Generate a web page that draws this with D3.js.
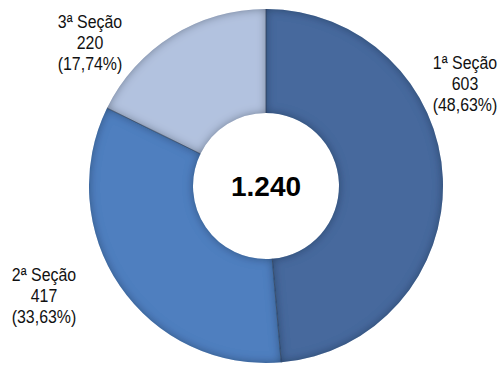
<!DOCTYPE html>
<html>
<head>
<meta charset="utf-8">
<script src="https://cdn.jsdelivr.net/npm/d3@7"></script>
<style>
  html, body { margin: 0; padding: 0; background: #fff; }
  svg { display: block; }
  svg text { font-family: "Liberation Sans", Arial, sans-serif; }
</style>
</head>
<body>
<div id="chart"></div>
<script>
// Distribution of cases by section
const sections = ["1ª Seção", "2ª Seção", "3ª Seção"];
const counts = [603, 417, 220];
const percentLabels = ["48,63%", "33,63%", "17,74%"];
const totalLabel = "1.240";
const colors = ["#46699d", "#4f7fbf", "#b2c2df"];

const width = 501, height = 365;
const cx = 266, cy = 186;
const outerR = 177, innerR = 73;

const svg = d3.select("#chart").append("svg")
  .attr("width", width).attr("height", height);

// Inner shadow to give each ring segment a bevelled look
const defs = svg.append("defs");
const f = defs.append("filter").attr("id", "bevel")
  .attr("x", "-10%").attr("y", "-10%").attr("width", "120%").attr("height", "120%");
f.append("feComponentTransfer").attr("in", "SourceAlpha").attr("result", "inv")
  .append("feFuncA").attr("type", "table").attr("tableValues", "1 0");
f.append("feGaussianBlur").attr("in", "inv").attr("stdDeviation", 5).attr("result", "blur");
f.append("feFlood").attr("flood-color", "#0b1a33").attr("flood-opacity", 0.7).attr("result", "col");
f.append("feComposite").attr("in", "col").attr("in2", "blur").attr("operator", "in").attr("result", "shadow");
f.append("feComposite").attr("in", "shadow").attr("in2", "SourceAlpha").attr("operator", "in").attr("result", "inner");
const merge = f.append("feMerge");
merge.append("feMergeNode").attr("in", "SourceGraphic");
merge.append("feMergeNode").attr("in", "inner");

const pie = d3.pie().sort(null).value(d => d)(counts);
const arc = d3.arc().innerRadius(innerR).outerRadius(outerR);

const g = svg.append("g").attr("transform", `translate(${cx},${cy})`);

g.selectAll("path.slice").data(pie).join("path")
  .attr("class", "slice")
  .attr("d", arc)
  .attr("fill", (d, i) => colors[i])
  .attr("filter", "url(#bevel)");

// thin separators between segments
g.selectAll("line.sep").data(pie).join("line")
  .attr("class", "sep")
  .attr("x1", d => innerR * Math.sin(d.startAngle))
  .attr("y1", d => -innerR * Math.cos(d.startAngle))
  .attr("x2", d => outerR * Math.sin(d.startAngle))
  .attr("y2", d => -outerR * Math.cos(d.startAngle))
  .attr("stroke", "#2a3a52").attr("stroke-opacity", 0.7).attr("stroke-width", 1);

// total in the centre
svg.append("text")
  .attr("x", cx).attr("y", cy)
  .attr("text-anchor", "middle").attr("dominant-baseline", "central")
  .attr("font-size", 28).attr("font-weight", "bold").attr("fill", "#000")
  .text(totalLabel);

// outside labels: section, count, percentage (slightly condensed)
const labelPos = [[465, 63], [44, 275], [90, 22]];
const lineGap = 20.8;
pie.forEach((d, i) => {
  const t = svg.append("g")
    .attr("transform", `translate(${labelPos[i][0]},${labelPos[i][1]}) scale(0.86,1)`)
    .append("text")
    .attr("text-anchor", "middle")
    .attr("font-size", 18.5).attr("fill", "#111");
  const lines = [sections[i], String(counts[i]), "(" + percentLabels[i] + ")"];
  lines.forEach((s, k) => {
    t.append("tspan")
      .attr("x", 0)
      .attr("y", k * lineGap)
      .attr("dominant-baseline", "central")
      .text(s);
  });
});
</script>
</body>
</html>
